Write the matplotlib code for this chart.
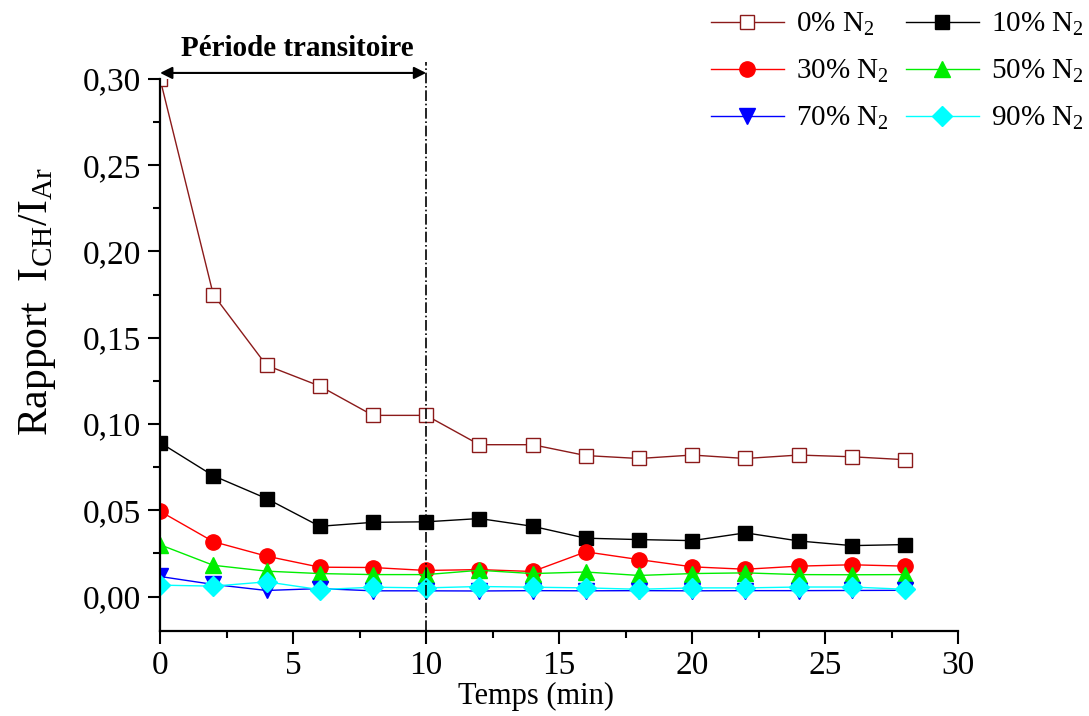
import numpy as np
import matplotlib
matplotlib.use("Agg")
import matplotlib.pyplot as plt
from matplotlib.ticker import MultipleLocator, FuncFormatter

plt.rcParams['font.family'] = ['Liberation Serif', 'DejaVu Serif']
plt.rcParams['mathtext.fontset'] = 'custom'
plt.rcParams['mathtext.rm'] = 'Liberation Serif'
plt.rcParams['mathtext.it'] = 'Liberation Serif:italic'

# time (min)
temps = [0, 2, 4, 6, 8, 10, 12, 14, 16, 18, 20, 22, 24, 26, 28]

# I_CH / I_Ar ratio for each N2 fraction
n2_0 = [0.300, 0.175, 0.134, 0.122, 0.105, 0.105, 0.088, 0.088, 0.0817,
        0.0800, 0.0820, 0.0800, 0.0820, 0.0810, 0.0793]
n2_10 = [0.0892, 0.0700, 0.0568, 0.0407, 0.0430, 0.0433, 0.0452, 0.0407,
         0.0338, 0.0330, 0.0324, 0.0369, 0.0322, 0.0295, 0.0301]
n2_30 = [0.0494, 0.0318, 0.0234, 0.0170, 0.0168, 0.0151, 0.0156, 0.0145,
         0.0259, 0.0214, 0.0172, 0.0158, 0.0176, 0.0184, 0.0176]
n2_50 = [0.0300, 0.0181, 0.0147, 0.0133, 0.0127, 0.0127, 0.0152, 0.0133,
         0.0142, 0.0122, 0.0133, 0.0137, 0.0127, 0.0126, 0.0127]
n2_70 = [0.0116, 0.0070, 0.0035, 0.0046, 0.0033, 0.0033, 0.0032, 0.0034,
         0.0033, 0.0034, 0.0033, 0.0034, 0.0034, 0.0035, 0.0036]
n2_90 = [0.0066, 0.0060, 0.0085, 0.0040, 0.0054, 0.0050, 0.0058, 0.0054,
         0.0050, 0.0042, 0.0050, 0.0050, 0.0055, 0.0055, 0.0042]

labels = ['0% N$_2$', '10% N$_2$', '30% N$_2$', '50% N$_2$', '70% N$_2$', '90% N$_2$']

series = [
    (n2_0, dict(color='#8B1A1A', marker='s', mfc='white', mec='#8B1A1A', ms=10)),
    (n2_10, dict(color='black', marker='s', mfc='black', mec='black', ms=10)),
    (n2_30, dict(color='red', marker='o', mfc='red', mec='red', ms=11)),
    (n2_50, dict(color='#00EE00', marker='^', mfc='#00EE00', mec='#00EE00', ms=11)),
    (n2_70, dict(color='blue', marker='v', mfc='blue', mec='blue', ms=11)),
    (n2_90, dict(color='cyan', marker='D', mfc='cyan', mec='cyan', ms=10)),
]

fig = plt.figure(figsize=(10.89, 7.16), dpi=100)
ax = fig.add_axes([0.147, 0.1187, 0.733, 0.771])

handles = []
for (vals, style), lab in zip(series, labels):
    h, = ax.plot(temps, vals, lw=1, label=lab, **style)
    handles.append(h)

ax.set_xlim(0, 30)
ax.set_ylim(-0.02, 0.30)

ax.spines['top'].set_visible(False)
ax.spines['right'].set_visible(False)
for s in ['left', 'bottom']:
    ax.spines[s].set_linewidth(1.6)

ax.xaxis.set_major_locator(MultipleLocator(5))
ax.xaxis.set_minor_locator(MultipleLocator(2.5))
ax.yaxis.set_major_locator(MultipleLocator(0.05))
ax.yaxis.set_minor_locator(MultipleLocator(0.025))
ax.yaxis.set_major_formatter(FuncFormatter(lambda v, p: f"{v:.2f}".replace('.', ',')))
ax.tick_params(which='major', direction='out', length=9, width=1.5, labelsize=24, pad=5)
ax.tick_params(which='minor', direction='out', length=5, width=1.5)

ax.set_xlabel('Temps (min)', fontsize=22)
ax.xaxis.set_label_coords(0.471, -0.092)
ax.set_ylabel(r'Rapport  I$_{\mathrm{CH}}$/I$_{\mathrm{Ar}}$', fontsize=30)
ax.yaxis.set_label_coords(-0.128, 0.596)

# transitional period marker
ax.axvline(10, ymax=1.03, color='black', lw=1.2, linestyle='-.', clip_on=False)
ax.annotate('', xy=(0, 0.3035), xytext=(10, 0.3035),
            arrowprops=dict(arrowstyle='<|-|>', color='black', lw=1.5,
                            shrinkA=0, shrinkB=0, mutation_scale=18),
            annotation_clip=False)
ax.text(5.15, 0.3100, 'Période transitoire', ha='center', va='bottom',
        fontsize=21, fontweight='bold')

# row-wise legend order
order = [0, 2, 4, 1, 3, 5]
ax.legend([handles[i] for i in order], [labels[i] for i in order],
          loc='upper right', bbox_to_anchor=(1.011, 1.009),
          bbox_transform=fig.transFigure, ncol=2, frameon=False,
          fontsize=21, numpoints=1, handlelength=2.5, handletextpad=0.4,
          columnspacing=0.6, labelspacing=0.68, borderaxespad=0.2)

fig.savefig('out.png', dpi=100)
